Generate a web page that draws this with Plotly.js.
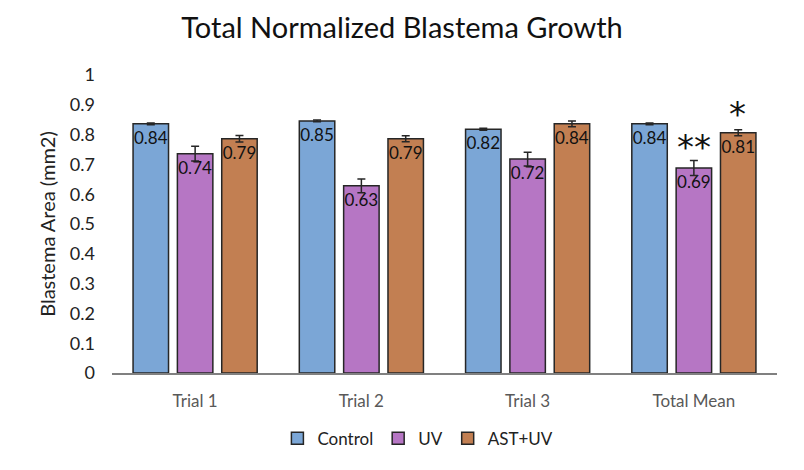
<!DOCTYPE html>
<html>
<head>
<meta charset="utf-8">
<script src="https://cdn.plot.ly/plotly-3.0.1.min.js"></script>
<style>
  html, body { margin: 0; padding: 0; background: #fff; }
  #chart { width: 804px; height: 470px; }
</style>
</head>
<body>
<div id="chart"></div>
<script>
// groups along the x axis
var trials = ['Trial 1', 'Trial 2', 'Trial 3', 'Total Mean'];

// mean blastema area (mm2)
var control = [0.836, 0.846, 0.818, 0.836];
var uv      = [0.736, 0.628, 0.718, 0.688];
var astUv   = [0.786, 0.786, 0.836, 0.806];

// error bar half-heights
var controlErr = [0.003, 0.003, 0.003, 0.003];
var uvErr      = [0.025, 0.023, 0.023, 0.025];
var astUvErr   = [0.011, 0.010, 0.010, 0.010];

// significance marks on the Total Mean group
var uvStars  = '**';
var astStars = '*';

var font = 'Lato, "Open Sans", "DejaVu Sans", sans-serif';

function barTrace(name, values, errs, color) {
    return {
        type: 'bar',
        name: name,
        x: trials,
        y: values,
        text: values.map(function(v) { return v.toFixed(2); }),
        textposition: 'inside',
        insidetextanchor: 'end',
        textangle: 0,
        constraintext: 'none',
        textfont: { family: font, size: 17, color: '#111' },
        marker: { color: color, line: { color: '#262626', width: 1.5 } },
        error_y: { type: 'data', array: errs, visible: true, color: '#262626', thickness: 1.5, width: 4 },
        hoverinfo: 'x+y'
    };
}

var data = [
    barTrace('Control', control, controlErr, '#7ba6d6'),
    barTrace('UV', uv, uvErr, '#b676c4'),
    barTrace('AST+UV', astUv, astUvErr, '#c27f52')
];

var last = trials.length - 1;

var layout = {
    width: 804,
    height: 470,
    paper_bgcolor: '#fff',
    plot_bgcolor: '#fff',
    margin: { l: 112, r: 27, t: 75, b: 97, autoexpand: false },
    font: { family: font, color: '#222' },
    title: {
        text: 'Total Normalized Blastema Growth',
        font: { family: font, size: 29, color: '#111' },
        x: 0.5, xanchor: 'center',
        y: 0.94, yanchor: 'middle'
    },
    barmode: 'group',
    bargap: 0.2,
    bargroupgap: 0.2,
    showlegend: true,
    legend: {
        orientation: 'h',
        x: 0.46, xanchor: 'center',
        y: -0.16, yanchor: 'top',
        font: { family: font, size: 17, color: '#222' },
        itemwidth: 30,
        traceorder: 'normal'
    },
    xaxis: {
        type: 'category',
        showline: true,
        linecolor: '#808080',
        linewidth: 1.5,
        ticks: '',
        ticklabelstandoff: 12,
        tickfont: { family: font, size: 17, color: '#595959' },
        showgrid: false,
        zeroline: false
    },
    yaxis: {
        range: [0, 1],
        dtick: 0.1,
        tick0: 0,
        showgrid: false,
        zeroline: false,
        showline: false,
        ticks: '',
        ticklabelstandoff: 16,
        tickfont: { family: font, size: 18, color: '#222' },
        title: {
            text: 'Blastema Area (mm2)',
            font: { family: font, size: 20, color: '#222' },
            standoff: 8
        }
    },
    annotations: [
        {
            xref: 'x', yref: 'y',
            x: trials[last], y: uv[last] + uvErr[last],
            text: uvStars,
            showarrow: false,
            yanchor: 'bottom',
            yshift: -8,
            font: { family: '"DejaVu Sans", sans-serif', size: 34, color: '#111' }
        },
        {
            xref: 'x', yref: 'y',
            x: trials[last], y: astUv[last] + astUvErr[last],
            xshift: 44,
            text: astStars,
            showarrow: false,
            yanchor: 'bottom',
            yshift: -6,
            font: { family: '"DejaVu Sans", sans-serif', size: 34, color: '#111' }
        }
    ]
};

Plotly.newPlot('chart', data, layout, { displayModeBar: false, staticPlot: true });
</script>
</body>
</html>
